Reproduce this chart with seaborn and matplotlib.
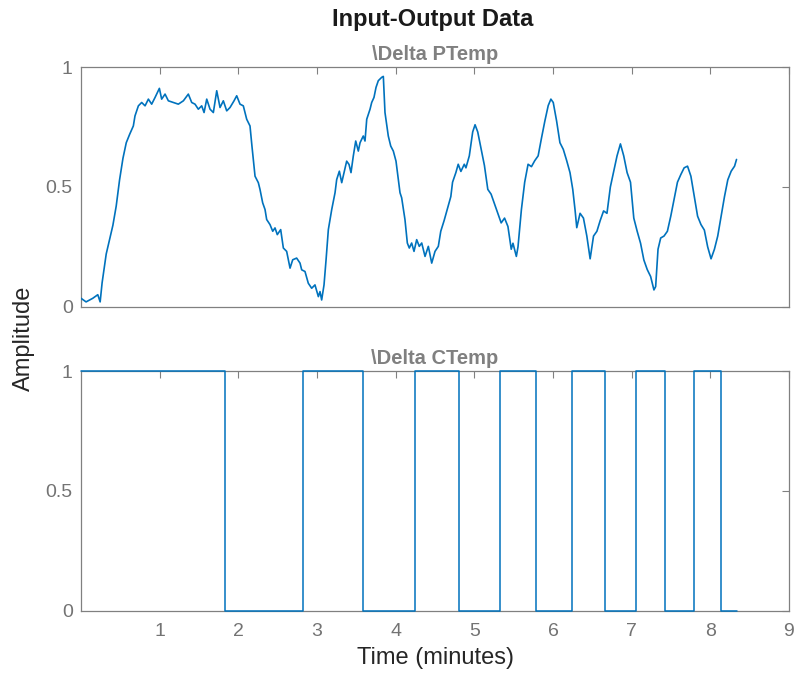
import matplotlib

matplotlib.use("Agg")

import matplotlib.pyplot as plt
import seaborn as sns


# --- data --------------------------------------------------------------------

# \Delta PTemp (output), time in minutes
ptemp_t = [
    0.000, 0.064, 0.149, 0.213, 0.243, 0.268, 0.320, 0.362, 0.405, 0.447,
    0.490, 0.533, 0.575, 0.618,
    0.665, 0.686, 0.729, 0.771, 0.814, 0.856, 0.898, 0.941, 0.996, 1.025,
    1.068, 1.110, 1.174, 1.237, 1.301, 1.364, 1.407, 1.449, 1.491, 1.534,
    1.564, 1.598, 1.640, 1.682, 1.725, 1.767, 1.809, 1.852, 1.894, 1.945,
    1.979, 2.021, 2.063, 2.106, 2.148,
    2.173, 2.212, 2.254, 2.275, 2.309, 2.339, 2.360, 2.402, 2.437, 2.466,
    2.495, 2.538, 2.572, 2.614, 2.657, 2.691, 2.741, 2.784, 2.805, 2.847,
    2.889, 2.932, 2.974, 3.017, 3.038, 3.059, 3.089,
    3.115, 3.144, 3.187, 3.229, 3.250, 3.284, 3.314, 3.343, 3.377, 3.407,
    3.432, 3.461, 3.492, 3.525, 3.547, 3.588, 3.610, 3.632, 3.674, 3.695,
    3.724, 3.750, 3.779, 3.822, 3.843, 3.864, 3.906, 3.937, 3.970, 4.004,
    4.055, 4.076, 4.118, 4.148, 4.173, 4.203, 4.233, 4.267, 4.300, 4.331,
    4.373, 4.415, 4.458, 4.500, 4.542,
    4.573, 4.616, 4.659, 4.701, 4.723, 4.765, 4.795, 4.829, 4.872, 4.893,
    4.936, 4.979, 5.009, 5.043, 5.085, 5.128, 5.171, 5.213, 5.256, 5.299,
    5.341, 5.384, 5.427, 5.469, 5.491, 5.534, 5.555, 5.598, 5.640, 5.683,
    5.726, 5.768, 5.811, 5.854, 5.896, 5.939, 5.973, 6.003, 6.046, 6.088,
    6.131, 6.174, 6.216, 6.251, 6.280, 6.302, 6.344, 6.387, 6.430, 6.472,
    6.515, 6.558, 6.600, 6.643, 6.686, 6.729, 6.771, 6.814, 6.857, 6.899,
    6.942, 6.985, 7.027, 7.070, 7.113, 7.155, 7.198, 7.241, 7.283, 7.305,
    7.335, 7.369, 7.411, 7.454, 7.497, 7.539, 7.582, 7.625, 7.667, 7.710,
    7.753, 7.796, 7.838, 7.881, 7.924, 7.966, 8.009, 8.052, 8.094, 8.137,
    8.180, 8.222, 8.265, 8.308, 8.333,
]
ptemp_val = [
    0.035, 0.020, 0.035, 0.050, 0.020, 0.100, 0.220, 0.280, 0.340, 0.420,
    0.530, 0.620, 0.685, 0.720,
    0.755, 0.797, 0.839, 0.853, 0.839, 0.867, 0.846, 0.874, 0.912, 0.867,
    0.888, 0.860, 0.853, 0.846, 0.860, 0.888, 0.853, 0.846, 0.825, 0.839,
    0.811, 0.867, 0.825, 0.811, 0.902, 0.832, 0.860, 0.818, 0.832, 0.860,
    0.881, 0.846, 0.839, 0.783, 0.755,
    0.670, 0.545, 0.518, 0.490, 0.434, 0.406, 0.364, 0.343, 0.315, 0.329,
    0.301, 0.322, 0.245, 0.231, 0.161, 0.196, 0.203, 0.182, 0.154, 0.147,
    0.098, 0.077, 0.091, 0.042, 0.063, 0.028, 0.091,
    0.196, 0.322, 0.406, 0.476, 0.531, 0.566, 0.518, 0.560, 0.608, 0.594,
    0.560, 0.629, 0.692, 0.650, 0.685, 0.713, 0.692, 0.783, 0.825, 0.853,
    0.874, 0.916, 0.944, 0.958, 0.962, 0.811, 0.713, 0.671, 0.650, 0.608,
    0.476, 0.455, 0.364, 0.266, 0.245, 0.266, 0.231, 0.280, 0.252, 0.266,
    0.210, 0.252, 0.182, 0.231, 0.252,
    0.315, 0.360, 0.410, 0.460, 0.520, 0.560, 0.595, 0.565, 0.595, 0.580,
    0.630, 0.730, 0.760, 0.730, 0.660, 0.590, 0.490, 0.470, 0.430, 0.390,
    0.350, 0.370, 0.335, 0.240, 0.265, 0.210, 0.250, 0.405, 0.520, 0.595,
    0.585, 0.610, 0.630, 0.705, 0.775, 0.840, 0.867, 0.853, 0.775, 0.685,
    0.657, 0.610, 0.560, 0.490, 0.405, 0.330, 0.390, 0.370, 0.295, 0.200,
    0.295, 0.315, 0.360, 0.400, 0.390, 0.500, 0.565, 0.630, 0.680, 0.630,
    0.560, 0.520, 0.370, 0.315, 0.265, 0.195, 0.155, 0.126, 0.070, 0.084,
    0.240, 0.287, 0.295, 0.315, 0.378, 0.447, 0.520, 0.552, 0.580, 0.587,
    0.545, 0.460, 0.378, 0.343, 0.320, 0.250, 0.200, 0.240, 0.295, 0.378,
    0.460, 0.530, 0.566, 0.587, 0.615,
]

# \Delta CTemp (input): switching instants and the level held after each
ctemp_t = [0.0, 1.83, 2.82, 3.58, 4.24, 4.80, 5.32, 5.79, 6.24, 6.66,
           7.05, 7.43, 7.79, 8.14, 8.34]
ctemp_val = [1, 0, 1, 0, 1, 0, 1, 0, 1, 0, 1, 0, 1, 0, 0]

x_ticks = [1, 2, 3, 4, 5, 6, 7, 8, 9]
y_ticks = [0, 0.5, 1]
y_tick_labels = ["0", "0.5", "1"]

LINE_COLOR = "#0072BD"
AXIS_GRAY = "#808080"


def _style_axis(ax, show_xlabels: bool):
    ax.set_xlim(0, 9)
    ax.set_ylim(0, 1)
    ax.set_xticks(x_ticks)
    ax.set_yticks(y_ticks)
    ax.set_yticklabels(y_tick_labels)
    ax.set_xlabel("")
    ax.set_ylabel("")

    for spine in ax.spines.values():
        spine.set_visible(True)
        spine.set_color(AXIS_GRAY)
        spine.set_linewidth(0.9)

    ax.tick_params(
        direction="in",
        length=5,
        width=0.8,
        color=AXIS_GRAY,
        labelcolor="#737373",
        labelsize=14,
        top=True,
        right=True,
        labelbottom=show_xlabels,
    )
    ax.tick_params(axis="x", pad=9)
    ax.tick_params(axis="y", pad=6)


sns.set_style("white")
plt.rcParams["font.family"] = ["Liberation Sans", "DejaVu Sans"]

fig = plt.figure(figsize=(7.96, 6.77), dpi=100)
ax_top = fig.add_axes([0.1018, 0.547, 0.8894, 0.3536])
ax_bot = fig.add_axes([0.1018, 0.0979, 0.8894, 0.354])

sns.lineplot(x=ptemp_t, y=ptemp_val, ax=ax_top, color=LINE_COLOR,
             linewidth=1.2, zorder=3)
_style_axis(ax_top, show_xlabels=False)

sns.lineplot(x=ctemp_t, y=ctemp_val, ax=ax_bot, color=LINE_COLOR,
             linewidth=1.1, drawstyle="steps-post", zorder=3, clip_on=False)
_style_axis(ax_bot, show_xlabels=True)

ax_top.set_title(r"\Delta PTemp", fontsize=14.5, fontweight="bold",
                 color=AXIS_GRAY, pad=5)
ax_bot.set_title(r"\Delta CTemp", fontsize=14.5, fontweight="bold",
                 color=AXIS_GRAY, pad=5)

ax_bot.set_xlabel("Time (minutes)", fontsize=17, color="#262626", labelpad=5)

fig.text(0.543, 0.971, "Input-Output Data", ha="center", va="center",
         fontsize=17, fontweight="bold", color="#1a1a1a")
fig.text(0.030, 0.5, "Amplitude", ha="center", va="center", rotation=90,
         fontsize=17, color="#262626")

fig.savefig("out.png", dpi=100)
